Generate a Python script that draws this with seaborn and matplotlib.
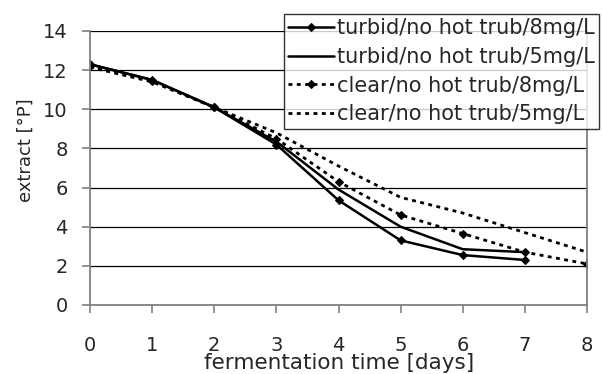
import matplotlib
matplotlib.use("Agg")
import matplotlib.pyplot as plt
import seaborn as sns
import pandas as pd

days_turbid = [0, 1, 2, 3, 4, 5, 6, 7]
days_clear = [0, 1, 2, 3, 4, 5, 6, 7, 8]
turbid_8 = [12.3, 11.5, 10.1, 8.2, 5.35, 3.3, 2.55, 2.3]
turbid_5 = [12.3, 11.5, 10.1, 8.35, 5.9, 4.0, 2.85, 2.7]
clear_8 = [12.2, 11.45, 10.1, 8.5, 6.3, 4.6, 3.65, 2.7, 2.1]
clear_5 = [12.15, 11.4, 10.1, 8.8, 7.1, 5.5, 4.7, 3.7, 2.7]
labels = ["turbid/no hot trub/8mg/L", "turbid/no hot trub/5mg/L",
          "clear/no hot trub/8mg/L", "clear/no hot trub/5mg/L"]
x_ticks = [0, 1, 2, 3, 4, 5, 6, 7, 8]
y_ticks = [0, 2, 4, 6, 8, 10, 12, 14]

sns.set_theme(style="white")
plt.rcParams['font.family'] = ['DejaVu Sans']

fig = plt.figure(figsize=(6.03, 3.74), dpi=100)
ax = fig.add_axes([90/603, 1-305/374, (587-90)/603, (305-31)/374])

series = [
    (days_turbid, turbid_8, dict(linestyle="-", marker="D", markersize=4.5, linewidth=1.8)),
    (days_turbid, turbid_5, dict(linestyle="-", marker=None, linewidth=1.8)),
    (days_clear, clear_8, dict(linestyle=(0, (1.4, 1.6)), marker="D", markersize=4.5, linewidth=2.0)),
    (days_clear, clear_5, dict(linestyle=(0, (1.4, 1.6)), marker=None, linewidth=2.0)),
]
for (d, v, st), lab in zip(series, labels):
    df = pd.DataFrame({"day": d, "extract": v})
    sns.lineplot(data=df, x="day", y="extract", ax=ax, color="black",
                 label=lab, markeredgecolor="black", **st)

ax.set_xlim(0, 8)
ax.set_ylim(0, 14)
ax.set_xticks(x_ticks)
ax.set_yticks(y_ticks)
ax.set_xticklabels([str(t) for t in x_ticks], fontsize=14)
ax.set_yticklabels([str(t) for t in y_ticks], fontsize=14)
ax.yaxis.grid(True, color="black", linewidth=0.9)
ax.xaxis.grid(False)
for s in ["left", "bottom", "right"]:
    ax.spines[s].set_visible(True)
    ax.spines[s].set_color("#808080")
    ax.spines[s].set_linewidth(1.3)
ax.spines["top"].set_visible(False)
ax.tick_params(axis="both", which="major", direction="out", length=6, width=1.2,
               color="#808080", left=True, bottom=True)
ax.tick_params(axis="y", pad=10)
ax.tick_params(axis="x", pad=16)
ax.set_xlabel("fermentation time [days]", fontsize=15.5, va="top")
ax.xaxis.set_label_coords((339-90)/497, (305-353)/274)
ax.set_ylabel("extract [°P]", fontsize=13)
ax.yaxis.set_label_coords((35-90)/497, (305-150)/274)

ax.get_legend().remove()
h, l = ax.get_legend_handles_labels()
leg = fig.legend(h, l, loc="upper left", bbox_to_anchor=(284/603, 1-14/374),
                 frameon=True, fancybox=False, fontsize=15, handlelength=2.2,
                 handletextpad=0.15, labelspacing=0.42, borderpad=0.2,
                 borderaxespad=0)
leg.get_frame().set_edgecolor("black")
leg.get_frame().set_linewidth(1.0)

fig.savefig("out.png", dpi=100, facecolor="white")
